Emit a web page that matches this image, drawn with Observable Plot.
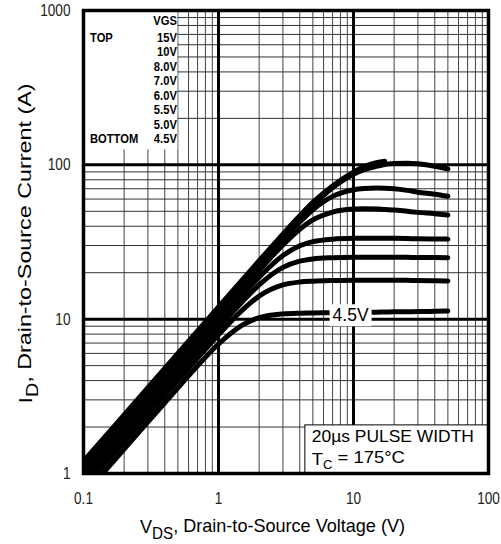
<!DOCTYPE html>
<html><head><meta charset="utf-8">
<script src="https://cdn.jsdelivr.net/npm/d3@7"></script>
<script src="https://cdn.jsdelivr.net/npm/@observablehq/plot@0.6"></script>
<style>
html,body{margin:0;padding:0;background:#fff;}
#chart svg{display:block;}
</style></head><body><div id="chart"></div>
<script>
const FONT = "'Liberation Sans Narrow','Arial Narrow','Liberation Sans',Arial,sans-serif";

// Drain-source voltage sample points (V)
const vds = [0.1,0.15,0.2,0.3,0.5,0.7,1,1.5,2,3,4,5,7,10,12,15,17,20,25,30,40,50];
// Drain current (A) per VGS curve
const id15 = [1.2,1.8,2.4,3.6,6.0,8.4,12,17.97,23.92,35.59,46.74,57.07,73.0,89.5,97.5,103.5,105.5,null,null,null,null,null];
const id10 = [1.15,1.725,2.3,3.45,5.75,8.05,11.5,17.23,22.92,34.1,44.78,54.65,71.09,86.9,93,98,100.5,102,102.5,101.5,98,94];
const id8  = [1.1,1.65,2.2,3.3,5.5,7.7,11,16.49,21.95,32.65,42.58,51.12,62.47,69.0,70.3,70.8,70.6,70.0,68.3,66.5,64.5,62.5];
const id7  = [1.04,1.56,2.08,3.12,5.2,7.28,10.4,15.57,20.67,30.3,38.28,43.94,49.44,51.7,52.0,51.8,51.4,51.0,50.0,49.2,48.2,47.3];
const id6  = [0.96,1.44,1.92,2.88,4.8,6.72,9.58,14.28,18.71,25.82,29.88,31.77,33.0,33.4,33.45,33.5,33.45,33.4,33.3,33.2,33.1,33.0];
const id55 = [0.88,1.32,1.76,2.64,4.4,6.15,8.77,12.96,16.69,21.66,23.77,24.57,25.03,25.2,25.2,25.2,25.2,25.2,25.15,25.1,25.05,25.0];
const id5  = [0.8,1.2,1.6,2.4,4.0,5.59,7.92,11.45,14.11,16.67,17.4,17.63,17.8,17.9,17.9,17.9,17.9,17.9,17.85,17.8,17.75,17.7];
const id45 = [0.72,1.08,1.44,2.16,3.59,4.99,6.9,9.16,10.22,10.82,10.94,10.97,11.0,11.05,11.07,11.1,11.12,11.15,11.18,11.2,11.25,11.3];

const vgsLabels = ["15V","10V","8.0V","7.0V","6.0V","5.5V","5.0V","4.5V"];
const seriesValues = [id15,id10,id8,id7,id6,id55,id5,id45];

const xTicks = [0.1,1,10,100];
const yTicks = [1,10,100,1000];
const xMinor = [0.2,0.3,0.4,0.5,0.6,0.7,0.8,0.9,2,3,4,5,6,7,8,9,20,30,40,50,60,70,80,90];
const yMinor = [2,3,4,5,6,7,8,9,20,30,40,50,60,70,80,90,200,300,400,500,600,700,800,900];
const xMajor = [1,10];
const yMajor = [10,100];

const xTitle = ["V","DS",", Drain-to-Source Voltage (V)"];
const yTitle = ["I","D",", Drain-to-Source Current (A)"];
const noteLine1 = "20µs PULSE WIDTH";
const noteLine2 = ["T","C"," = 175°C"];
const curveLabel = "4.5V";

const rows = seriesValues.flatMap((vals, k) =>
  vds.map((v, j) => ({vgs: vgsLabels[k], v, i: vals[j]})).filter(d => d.i != null));

// layout
const W = 501, H = 544, mL = 83, mR = 13, mT = 10, mB = 71;
const legendBox = {x1: 0.1, x2: 0.5, y1: 125, y2: 1000};
const noteBox = {x1: 4.4, x2: 100, y1: 1, y2: 2.05};
const labelAt = {v: 9.6, i: 10.6};

const plot = Plot.plot({
  width: W, height: H,
  marginLeft: mL, marginRight: mR, marginTop: mT, marginBottom: mB,
  x: {type: "log", domain: [0.1, 100]},
  y: {type: "log", domain: [1, 1000]},
  style: {fontFamily: FONT, background: "#fff", color: "#222"},
  marks: [
    Plot.ruleX(xMinor, {stroke: "#444", strokeWidth: 1}),
    Plot.ruleY(yMinor, {stroke: "#333", strokeWidth: 1}),
    Plot.ruleX(xMajor, {stroke: "#000", strokeWidth: 3}),
    Plot.ruleY(yMajor, {stroke: "#000", strokeWidth: 3}),
    Plot.rect([0], {x1: legendBox.x1, x2: legendBox.x2, y1: legendBox.y1, y2: legendBox.y2, fill: "#fff"}),
    Plot.rect([0], {x1: noteBox.x1, x2: noteBox.x2, y1: noteBox.y1, y2: noteBox.y2, fill: "#fff", stroke: "#000", strokeWidth: 1}),
    Plot.line(rows, {x: "v", y: "i", z: "vgs", stroke: "#000", strokeWidth: 5, curve: "monotone-x", clip: true}),
    Plot.frame({stroke: "#000", strokeWidth: 3.5}),
    Plot.axisX({ticks: xTicks, tickSize: 0, tickPadding: 18, fontSize: 17, tickFormat: d => String(d), label: null}),
    Plot.axisY({ticks: yTicks, tickSize: 0, tickPadding: 13, fontSize: 17, tickFormat: d => String(d), label: null})
  ]
});

document.getElementById("chart").appendChild(plot);
const X = plot.scale("x"), Y = plot.scale("y");
const svg = d3.select(plot);

function squeeze(sel, f) {
  sel.each(function () {
    const L = this.getComputedTextLength();
    d3.select(this).attr("textLength", L * f).attr("lengthAdjust", "spacingAndGlyphs");
  });
  return sel;
}
function fit(sel, len) {
  sel.attr("textLength", len).attr("lengthAdjust", "spacingAndGlyphs");
  return sel;
}
// narrow look of tick labels
squeeze(svg.selectAll('g[aria-label$="tick label"] text'), 0.8);

const g = svg.append("g").attr("font-family", FONT).attr("fill", "#000").attr("text-anchor", "start");

function subText(parent, parts, size, subSize) {
  const t = parent.append("text").attr("font-size", size);
  t.append("tspan").text(parts[0]);
  t.append("tspan").attr("font-size", subSize).attr("dy", "0.35em").text(parts[1]);
  t.append("tspan").attr("dy", "-0.35em").text(parts[2]);
  return t;
}

// legend
const legRight = X.apply(legendBox.x2) - 0.5;
const leg = g.append("g").attr("font-weight", "bold").attr("font-size", 13);
leg.append("text").attr("x", legRight).attr("y", mT + 15).attr("text-anchor", "end").text("VGS");
vgsLabels.forEach((t, k) => {
  leg.append("text").attr("x", legRight).attr("y", mT + 32 + k * 14.43).attr("text-anchor", "end").text(t);
});
leg.append("text").attr("x", mL + 7).attr("y", mT + 32).text("TOP");
leg.append("text").attr("x", mL + 7).attr("y", mT + 32 + 7 * 14.43).text("BOTTOM");
squeeze(leg.selectAll("text"), 0.86);

// note box text
const nx = X.apply(noteBox.x1) + 7;
fit(g.append("text").attr("x", nx).attr("y", H - mB - 31).attr("font-size", 17).text(noteLine1), 162);
fit(subText(g, noteLine2, 17, 12).attr("x", nx).attr("y", H - mB - 8), 93);

// curve label with white background
const lx = X.apply(labelAt.v), ly = Y.apply(labelAt.i);
const lab = g.append("text").attr("x", lx).attr("y", ly).attr("dy", "0.36em").attr("text-anchor", "middle")
  .attr("font-size", 18).text(curveLabel);
fit(lab, 36);
const bb = lab.node().getBBox();
g.insert("rect", () => lab.node()).attr("x", bb.x - 3).attr("y", bb.y - 1).attr("width", bb.width + 6)
  .attr("height", bb.height + 2).attr("fill", "#fff");

// axis titles
const xt = subText(g, xTitle, 19, 16).attr("x", 140).attr("y", H - 11);
fit(xt, 265);
const ytx = 32, yty = (mT + H - mB) / 2 + 2;
const yt = subText(g, yTitle, 19, 16).attr("text-anchor", "middle")
  .attr("x", ytx).attr("y", yty).attr("transform", `rotate(-90,${ytx},${yty})`);
fit(yt, 320);
</script>
</body></html>
